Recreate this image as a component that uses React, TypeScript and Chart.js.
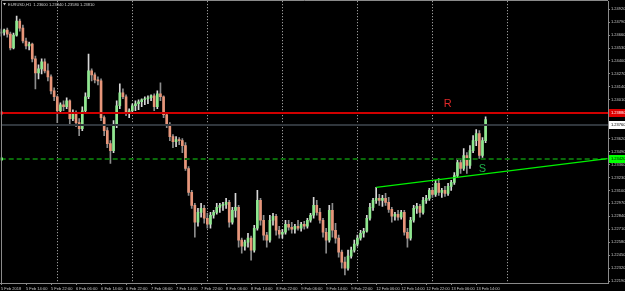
import React, { useEffect, useRef } from 'react';
import { Chart, registerables } from 'chart.js';

Chart.register(...registerables);

// ---- data: EURUSD H1 candles (price values) ----
const opens = [
  1.2468,
  1.2469, 1.2471, 1.2467, 1.2453, 1.2466, 1.2480, 1.2473, 1.2460, 1.2455, 1.2457,
  1.2442, 1.2428, 1.2432, 1.2439, 1.2430, 1.2424, 1.2410, 1.2404, 1.2390, 1.2396,
  1.2394, 1.2400, 1.2382, 1.2388, 1.2378, 1.2372, 1.2390, 1.2404, 1.2430, 1.2426,
  1.2421, 1.2420, 1.2383, 1.2370, 1.2357, 1.2350, 1.2375, 1.2395, 1.2408, 1.2404,
  1.2388, 1.2390, 1.2395, 1.2397, 1.2399, 1.2401, 1.2402, 1.2403, 1.2405, 1.2394,
  1.2407, 1.2404, 1.2386, 1.2376, 1.2364, 1.2359, 1.2361, 1.2360, 1.2355, 1.2332,
  1.2308, 1.2295, 1.2278, 1.2288, 1.2292, 1.2282, 1.2276, 1.2285, 1.2288, 1.2293,
  1.2295, 1.2296, 1.2298, 1.2278, 1.2290, 1.2293, 1.2260, 1.2254, 1.2258, 1.2262,
  1.2250, 1.2272, 1.2300, 1.2280, 1.2265, 1.2260, 1.2280, 1.2284, 1.2270, 1.2266,
  1.2268, 1.2276, 1.2273, 1.2271, 1.2274, 1.2272, 1.2276, 1.2274, 1.2280, 1.2285,
  1.2295, 1.2288, 1.2280, 1.2268, 1.2260, 1.2290, 1.2270, 1.2262, 1.2248, 1.2238,
  1.2232, 1.2244, 1.2250, 1.2256, 1.2262, 1.2267, 1.2269, 1.2282, 1.2293, 1.2300,
  1.2302, 1.2300, 1.2302, 1.2298, 1.2291, 1.2284, 1.2286, 1.2283, 1.2288, 1.2268,
  1.2262, 1.2280, 1.2292, 1.2294, 1.2288, 1.2300, 1.2302, 1.2310, 1.2306, 1.2317,
  1.2308, 1.2310, 1.2307, 1.2314, 1.2318, 1.2325, 1.2338, 1.2332, 1.2345, 1.2335,
  1.2350, 1.2360, 1.2367, 1.2345, 1.2360,
];
const highs = [
  1.2472,
  1.2472, 1.2473, 1.2469, 1.2468, 1.2485, 1.2482, 1.2476, 1.2463, 1.2459, 1.2458,
  1.2445, 1.2436, 1.2442, 1.2442, 1.2437, 1.2426, 1.2413, 1.2405, 1.2398, 1.2400,
  1.2403, 1.2401, 1.2391, 1.2390, 1.2382, 1.2394, 1.2408, 1.2447, 1.2432, 1.2428,
  1.2424, 1.2422, 1.2385, 1.2373, 1.2360, 1.2380, 1.2400, 1.2417, 1.2412, 1.2406,
  1.2392, 1.2397, 1.2400, 1.2401, 1.2402, 1.2404, 1.2405, 1.2406, 1.2407, 1.2410,
  1.2418, 1.2405, 1.2388, 1.2378, 1.2366, 1.2364, 1.2363, 1.2362, 1.2358, 1.2334,
  1.2310, 1.2297, 1.2292, 1.2297, 1.2295, 1.2287, 1.2288, 1.2290, 1.2297, 1.2297,
  1.2298, 1.2302, 1.2300, 1.2293, 1.2307, 1.2295, 1.2262, 1.2260, 1.2267, 1.2264,
  1.2275, 1.2310, 1.2302, 1.2285, 1.2268, 1.2285, 1.2287, 1.2286, 1.2274, 1.2271,
  1.2280, 1.2280, 1.2278, 1.2276, 1.2280, 1.2278, 1.2279, 1.2282, 1.2287, 1.2303,
  1.2300, 1.2292, 1.2282, 1.2272, 1.2295, 1.2297, 1.2277, 1.2265, 1.2250, 1.2243,
  1.2250, 1.2253, 1.2260, 1.2265, 1.2270, 1.2272, 1.2285, 1.2297, 1.2302, 1.2313,
  1.2306, 1.2305, 1.2307, 1.2303, 1.2293, 1.2288, 1.2290, 1.2290, 1.2290, 1.2272,
  1.2283, 1.2295, 1.2297, 1.2296, 1.2303, 1.2305, 1.2312, 1.2313, 1.2320, 1.2322,
  1.2312, 1.2314, 1.2317, 1.2320, 1.2328, 1.2342, 1.2341, 1.2352, 1.2348, 1.2355,
  1.2365, 1.2371, 1.2370, 1.2363, 1.2384,
];
const lows = [
  1.2465,
  1.2466, 1.2464, 1.2451, 1.2452, 1.2465, 1.2470, 1.2458, 1.2452, 1.2451, 1.2439,
  1.2412, 1.2422, 1.2427, 1.2428, 1.2420, 1.2407, 1.2400, 1.2378, 1.2387, 1.2390,
  1.2392, 1.2375, 1.2380, 1.2374, 1.2365, 1.2370, 1.2388, 1.2402, 1.2420, 1.2418,
  1.2416, 1.2380, 1.2365, 1.2353, 1.2337, 1.2348, 1.2373, 1.2392, 1.2402, 1.2385,
  1.2383, 1.2388, 1.2390, 1.2391, 1.2394, 1.2396, 1.2397, 1.2400, 1.2390, 1.2392,
  1.2400, 1.2383, 1.2373, 1.2360, 1.2353, 1.2354, 1.2356, 1.2348, 1.2330, 1.2305,
  1.2292, 1.2263, 1.2274, 1.2283, 1.2277, 1.2272, 1.2272, 1.2282, 1.2286, 1.2288,
  1.2290, 1.2292, 1.2273, 1.2276, 1.2283, 1.2253, 1.2247, 1.2250, 1.2253, 1.2240,
  1.2248, 1.2270, 1.2275, 1.2260, 1.2253, 1.2258, 1.2275, 1.2265, 1.2262, 1.2262,
  1.2266, 1.2270, 1.2267, 1.2267, 1.2270, 1.2269, 1.2271, 1.2272, 1.2278, 1.2282,
  1.2285, 1.2277, 1.2263, 1.2247, 1.2258, 1.2263, 1.2257, 1.2243, 1.2232, 1.2225,
  1.2230, 1.2242, 1.2248, 1.2254, 1.2260, 1.2263, 1.2268, 1.2280, 1.2290, 1.2297,
  1.2295, 1.2294, 1.2295, 1.2288, 1.2278, 1.2280, 1.2280, 1.2281, 1.2265, 1.2253,
  1.2260, 1.2278, 1.2287, 1.2283, 1.2286, 1.2297, 1.2300, 1.2303, 1.2304, 1.2305,
  1.2303, 1.2304, 1.2305, 1.2310, 1.2316, 1.2323, 1.2327, 1.2330, 1.2327, 1.2332,
  1.2348, 1.2355, 1.2342, 1.2343, 1.2358,
];
const closes = [
  1.2469,
  1.2471, 1.2467, 1.2453, 1.2466, 1.2480, 1.2473, 1.2460, 1.2455, 1.2457, 1.2442,
  1.2428, 1.2432, 1.2439, 1.2430, 1.2424, 1.2410, 1.2404, 1.2390, 1.2396, 1.2394,
  1.2400, 1.2382, 1.2388, 1.2378, 1.2372, 1.2390, 1.2404, 1.2430, 1.2426, 1.2421,
  1.2420, 1.2383, 1.2370, 1.2357, 1.2350, 1.2375, 1.2395, 1.2408, 1.2404, 1.2388,
  1.2390, 1.2395, 1.2397, 1.2399, 1.2401, 1.2402, 1.2403, 1.2405, 1.2394, 1.2407,
  1.2404, 1.2386, 1.2376, 1.2364, 1.2359, 1.2361, 1.2360, 1.2355, 1.2332, 1.2308,
  1.2295, 1.2278, 1.2288, 1.2292, 1.2282, 1.2276, 1.2285, 1.2288, 1.2293, 1.2295,
  1.2296, 1.2298, 1.2278, 1.2290, 1.2293, 1.2260, 1.2254, 1.2258, 1.2262, 1.2250,
  1.2272, 1.2300, 1.2280, 1.2265, 1.2260, 1.2280, 1.2284, 1.2270, 1.2266, 1.2268,
  1.2276, 1.2273, 1.2271, 1.2274, 1.2272, 1.2276, 1.2274, 1.2280, 1.2285, 1.2295,
  1.2288, 1.2280, 1.2268, 1.2260, 1.2290, 1.2270, 1.2262, 1.2248, 1.2238, 1.2232,
  1.2244, 1.2250, 1.2256, 1.2262, 1.2267, 1.2269, 1.2282, 1.2293, 1.2300, 1.2302,
  1.2300, 1.2302, 1.2298, 1.2291, 1.2284, 1.2286, 1.2283, 1.2288, 1.2268, 1.2262,
  1.2280, 1.2292, 1.2294, 1.2288, 1.2300, 1.2302, 1.2310, 1.2306, 1.2317, 1.2308,
  1.2310, 1.2307, 1.2314, 1.2318, 1.2325, 1.2338, 1.2332, 1.2345, 1.2335, 1.2350,
  1.2360, 1.2367, 1.2345, 1.2360, 1.2381,
];

// time axis: bar index of each label, and its text
const xTickIndex = [0, 8, 16, 24, 32, 40, 48, 56, 64, 72, 80, 88, 96, 104, 112, 120, 128, 136, 144, 152];
const xTickLabels = [
  '5 Feb 2018', '5 Feb 14:00', '5 Feb 22:00', '6 Feb 06:00', '6 Feb 14:00', '6 Feb 22:00',
  '7 Feb 06:00', '7 Feb 14:00', '7 Feb 22:00', '8 Feb 06:00', '8 Feb 14:00', '8 Feb 22:00',
  '9 Feb 06:00', '9 Feb 14:00', '9 Feb 22:00', '12 Feb 06:00', '12 Feb 14:00', '12 Feb 22:00',
  '13 Feb 06:00', '13 Feb 14:00',
];
// day separators (bar index of the first bar of each day)
const dayBreaks = [18, 42, 66, 90, 114, 138, 162];

// price axis ticks
const yTicks = [
  1.2492, 1.2479, 1.2466, 1.2453, 1.2440, 1.2427, 1.2414, 1.2401, 1.2388, 1.2375, 1.2362,
  1.2349, 1.2336, 1.2323, 1.2310, 1.2297, 1.2284, 1.2271, 1.2258, 1.2245, 1.2232, 1.2219,
];

// drawn objects
const resistanceLevel = 1.2388;
const priceLineLevel = 1.2376;
const supportLevel = 1.2342;
const trendX = [120, 194];
const trendY = [1.2313, 1.2342];
const labelR = { x: 141.6, y: 1.2394, text: 'R' };
const labelS = { x: 152.8, y: 1.2328, text: 'S' };
const titleText = 'EURUSD,H1  1.23600 1.23840 1.23580 1.23810';

const UP_BODY = '#8FE88F';
const DOWN_BODY = '#E8967A';
const UP_WICK = '#D8D8D8';
const DOWN_WICK = '#8C8C8C';
const FONT = 'Liberation Sans, Arial, sans-serif';

const overlay = {
  id: 'overlay',
  beforeDraw(chart: any) {
    const { ctx, width, height } = chart;
    ctx.save();
    ctx.fillStyle = '#000000';
    ctx.fillRect(0, 0, width, height);
    ctx.restore();
  },
  beforeDatasetsDraw(chart: any) {
    const { ctx, chartArea: a, scales } = chart;
    ctx.save();
    ctx.strokeStyle = '#BEBEBE';
    ctx.lineWidth = 1;
    ctx.setLineDash([1, 2]);
    dayBreaks.forEach((d) => {
      const x = Math.round(scales.x.getPixelForValue(d)) + 0.5;
      if (x < a.left || x > a.right) return;
      ctx.beginPath();
      ctx.moveTo(x, a.top);
      ctx.lineTo(x, a.bottom);
      ctx.stroke();
    });
    ctx.restore();
  },
  afterDatasetsDraw(chart: any) {
    const { ctx, chartArea: a, scales } = chart;
    const py = (v: number) => scales.y.getPixelForValue(v);
    const px = (v: number) => scales.x.getPixelForValue(v);
    ctx.save();
    ctx.beginPath();
    ctx.rect(a.left, a.top, a.right - a.left, a.bottom - a.top);
    ctx.clip();
    // price line (dark gray)
    const yg = Math.round(py(priceLineLevel));
    ctx.fillStyle = '#30363C';
    ctx.fillRect(a.left, yg - 1, a.right - a.left, 2);
    // resistance (red)
    const yr = Math.round(py(resistanceLevel));
    ctx.fillStyle = '#D00000';
    ctx.fillRect(a.left, yr - 1, a.right - a.left, 2);
    // support (dark green dashed)
    const ys = Math.round(py(supportLevel));
    ctx.strokeStyle = '#0A6A0A';
    ctx.lineWidth = 2;
    ctx.setLineDash([5, 3]);
    ctx.beginPath();
    ctx.moveTo(a.left, ys);
    ctx.lineTo(a.right, ys);
    ctx.stroke();
    ctx.setLineDash([]);
    // trendline
    ctx.strokeStyle = '#00F000';
    ctx.lineWidth = 1.2;
    ctx.beginPath();
    ctx.moveTo(px(trendX[0]), py(trendY[0]));
    ctx.lineTo(px(trendX[1]), py(trendY[1]));
    ctx.stroke();
    // left markers
    ctx.fillStyle = '#FF2020';
    ctx.fillRect(0, yr - 1.5, 3, 3);
    ctx.fillStyle = '#60FF60';
    ctx.fillRect(0, ys - 1.5, 3, 3);
    // texts
    ctx.font = `11px ${FONT}`;
    ctx.textBaseline = 'alphabetic';
    ctx.textAlign = 'left';
    ctx.fillStyle = '#E02828';
    ctx.fillText(labelR.text, px(labelR.x), py(labelR.y));
    ctx.fillStyle = '#1FB04A';
    ctx.fillText(labelS.text, px(labelS.x), py(labelS.y));
    ctx.restore();
  },
  afterDraw(chart: any) {
    const { ctx, chartArea: a, scales, width } = chart;
    const py = (v: number) => scales.y.getPixelForValue(v);
    ctx.save();
    // frame
    ctx.strokeStyle = '#8A8A8A';
    ctx.lineWidth = 1;
    ctx.beginPath();
    ctx.moveTo(1.5, a.bottom);
    ctx.lineTo(1.5, 0.5);
    ctx.lineTo(a.right, 0.5);
    ctx.stroke();
    // axis price boxes
    const box = (v: number, bg: string, fg: string) => {
      const y = Math.round(py(v));
      ctx.fillStyle = bg;
      ctx.fillRect(a.right + 1, y - 4, width - a.right - 1, 8);
      ctx.fillStyle = fg;
      ctx.font = `4px ${FONT}`;
      ctx.textBaseline = 'middle';
      ctx.textAlign = 'left';
      ctx.fillText(v.toFixed(5), a.right + 3, y);
    };
    box(resistanceLevel, '#E00000', '#FFFFFF');
    box(priceLineLevel, '#FFFFFF', '#000000');
    box(supportLevel, '#00FF00', '#000000');
    // title
    ctx.fillStyle = '#D0D0D0';
    ctx.beginPath();
    ctx.moveTo(3, 3);
    ctx.lineTo(6, 3);
    ctx.lineTo(4.5, 5.5);
    ctx.closePath();
    ctx.fill();
    ctx.font = `4px ${FONT}`;
    ctx.textBaseline = 'middle';
    ctx.textAlign = 'left';
    ctx.fillText(titleText, 8, 4.5);
    ctx.restore();
  },
};

export default function App() {
  const ref = useRef<HTMLCanvasElement>(null);
  useEffect(() => {
    document.body.style.margin = '0';
    document.body.style.background = '#000';
    const canvas = ref.current!;
    const idx = closes.map((_, i) => i);
    const up = (i: number) => closes[i] >= opens[i];
    const chart = new Chart(canvas, {
      type: 'bar',
      data: {
        datasets: [
          {
            label: 'body',
            data: idx.map((i) => ({ x: i, y: [opens[i], closes[i]] })) as any,
            backgroundColor: (c: any) => (up(c.dataIndex) ? UP_BODY : DOWN_BODY),
            barThickness: 2,
            grouped: false,
            minBarLength: 1,
            borderWidth: 0,
          } as any,
          {
            label: 'wick',
            data: idx.map((i) => ({ x: i, y: [lows[i], highs[i]] })) as any,
            backgroundColor: (c: any) => (up(c.dataIndex) ? UP_WICK : DOWN_WICK),
            barThickness: 1,
            grouped: false,
            borderWidth: 0,
          } as any,
        ],
      },
      options: {
        animation: false,
        responsive: false,
        maintainAspectRatio: false,
        devicePixelRatio: 1,
        layout: { padding: 0 },
        plugins: { legend: { display: false }, tooltip: { enabled: false } },
        scales: {
          x: {
            type: 'linear',
            min: -0.1,
            max: 194.15,
            offset: false,
            afterBuildTicks: (s: any) => {
              s.ticks = xTickIndex.map((v) => ({ value: v }));
            },
            afterFit: (s: any) => {
              s.height = 8;
            },
            grid: { display: true, drawOnChartArea: false, drawTicks: true, tickLength: 2, color: '#8A8A8A', offset: false },
            border: { display: true, color: '#8A8A8A' },
            ticks: {
              autoSkip: false,
              maxRotation: 0,
              minRotation: 0,
              align: 'start',
              padding: 1,
              color: '#C8C8C8',
              font: { size: 4, family: FONT },
              callback: (v: any) => {
                const k = xTickIndex.indexOf(Number(v));
                return k >= 0 ? xTickLabels[k] : '';
              },
            },
          },
          y: {
            type: 'linear',
            position: 'right',
            min: 1.2217,
            max: 1.2500,
            afterBuildTicks: (s: any) => {
              s.ticks = yTicks.map((v) => ({ value: v }));
            },
            afterFit: (s: any) => {
              s.width = 17;
            },
            grid: { display: true, drawOnChartArea: false, drawTicks: true, tickLength: 2, color: '#8A8A8A' },
            border: { display: true, color: '#8A8A8A' },
            ticks: {
              autoSkip: false,
              padding: 1,
              color: '#C8C8C8',
              font: { size: 4, family: FONT, lineHeight: 0.1 },
              callback: (v: any) => Number(v).toFixed(5),
            },
          },
        },
      } as any,
      plugins: [overlay],
    });
    return () => chart.destroy();
  }, []);
  return (
    <canvas
      ref={ref}
      width={625}
      height={291}
      style={{ display: 'block', width: 625, height: 291 }}
    />
  );
}
